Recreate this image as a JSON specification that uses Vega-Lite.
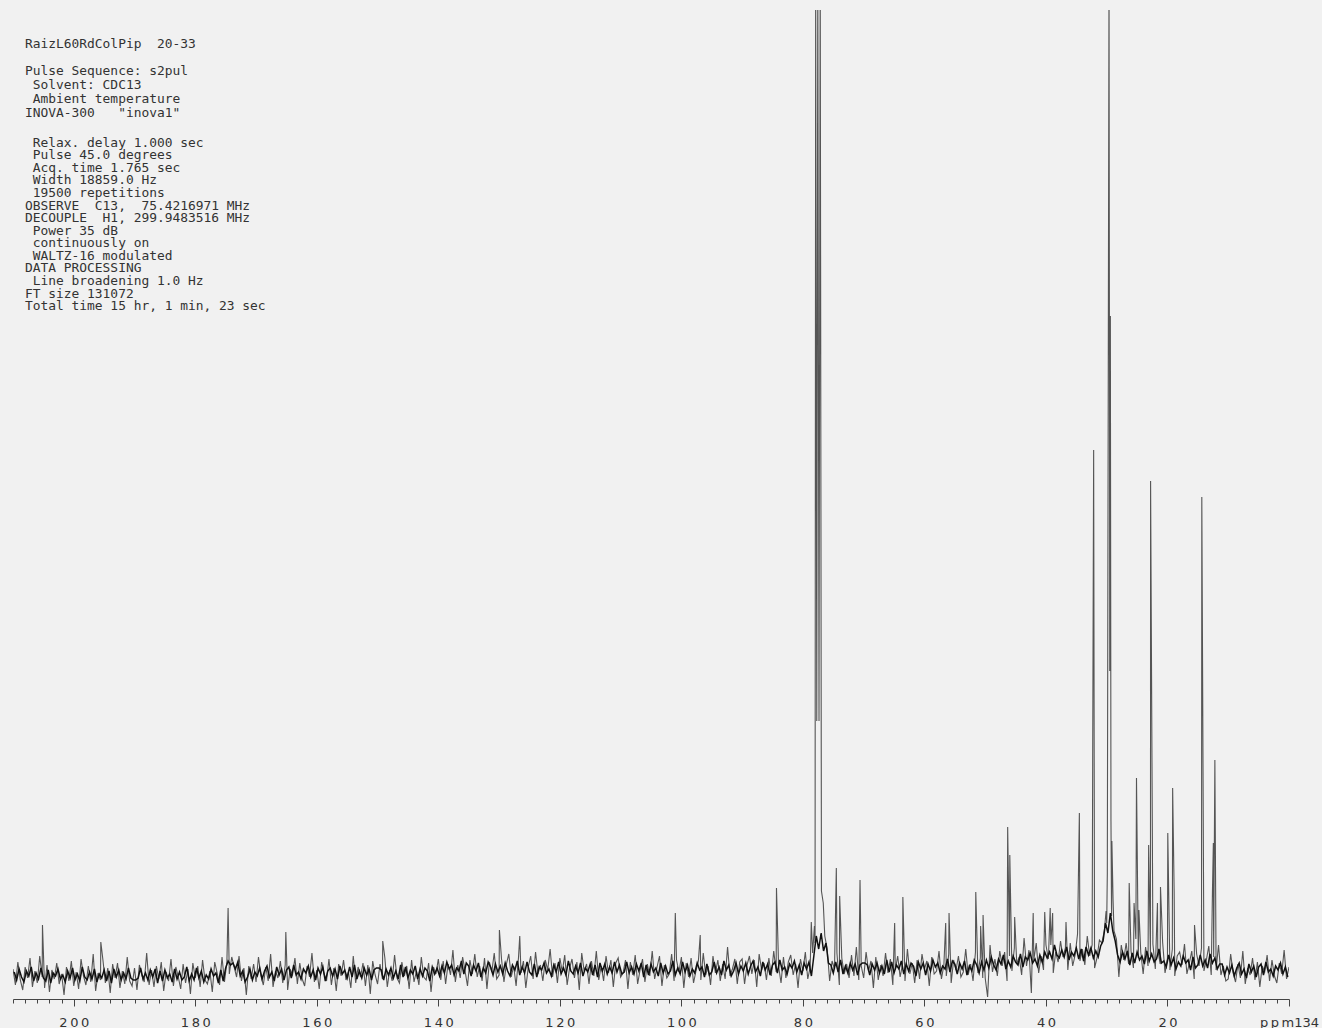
{
"$schema": "https://vega.github.io/schema/vega-lite/v6.json",
"width": 1276,
"height": 989,
"autosize": {"type": "none"},
"padding": {"left": 13, "right": 33, "top": 10, "bottom": 29},
"background": "#f1f1f1",
"config": {"view": {"stroke": null}},
"title": {
"text": ["RaizL60RdColPip\u00a0\u00a020-33", "\u200b\u00a0", "Pulse Sequence: s2pul", "\u200b\u00a0Solvent: CDC13", "\u200b\u00a0Ambient temperature", "INOVA-300\u00a0\u00a0\u00a0\"inova1\""],
"subtitle": ["\u200b\u00a0Relax. delay 1.000 sec", "\u200b\u00a0Pulse 45.0 degrees", "\u200b\u00a0Acq. time 1.765 sec", "\u200b\u00a0Width 18859.0 Hz", "\u200b\u00a019500 repetitions", "OBSERVE\u00a0\u00a0C13,\u00a0\u00a075.4216971 MHz", "DECOUPLE\u00a0\u00a0H1, 299.9483516 MHz", "\u200b\u00a0Power 35 dB", "\u200b\u00a0continuously on", "\u200b\u00a0WALTZ-16 modulated", "DATA PROCESSING", "\u200b\u00a0Line broadening 1.0 Hz", "FT size 131072", "Total time 15 hr, 1 min, 23 sec"],
"anchor": "start", "frame": "group", "orient": "top",
"font": "DejaVu Sans Mono", "fontSize": 12.9, "fontWeight": "normal", "color": "#333333", "lineHeight": 13.8,
"subtitleFont": "DejaVu Sans Mono", "subtitleFontSize": 12.9, "subtitleColor": "#333333", "subtitleLineHeight": 12.57,
"subtitlePadding": 17, "offset": -303, "dx": 12
},
"datasets": {
"main": [
{"ppm":210.0,"i":2},{"ppm":209.6,"i":-14},{"ppm":209.2,"i":9},{"ppm":208.8,"i":-9},{"ppm":208.4,"i":-19},{"ppm":208.0,"i":4},{"ppm":207.6,"i":-7},{"ppm":207.2,"i":13},{"ppm":206.8,"i":-16},{"ppm":206.4,"i":0},{"ppm":206.0,"i":-12},{"ppm":205.6,"i":15},{"ppm":205.2,"i":-6},{"ppm":204.8,"i":-17},{"ppm":204.4,"i":6},{"ppm":204.0,"i":-21},{"ppm":203.6,"i":1},{"ppm":203.2,"i":-8},{"ppm":202.8,"i":8},{"ppm":202.4,"i":-13},{"ppm":202.0,"i":-3},{"ppm":201.6,"i":-24},{"ppm":201.2,"i":4},{"ppm":200.8,"i":-10},{"ppm":200.4,"i":10},{"ppm":200.0,"i":-15},{"ppm":199.6,"i":-1},{"ppm":199.2,"i":-18},{"ppm":198.8,"i":12},{"ppm":198.4,"i":-5},{"ppm":198.0,"i":-14},{"ppm":197.6,"i":5},{"ppm":197.2,"i":-11},{"ppm":196.8,"i":17},{"ppm":196.4,"i":-20},{"ppm":196.0,"i":-2},{"ppm":195.6,"i":-9},{"ppm":195.2,"i":11},{"ppm":194.8,"i":-12},{"ppm":194.4,"i":3},{"ppm":194.0,"i":-22},{"ppm":193.6,"i":7},{"ppm":193.2,"i":-7},{"ppm":192.8,"i":8},{"ppm":192.4,"i":-17},{"ppm":192.0,"i":0},{"ppm":191.6,"i":-13},{"ppm":191.2,"i":14},{"ppm":190.8,"i":-10},{"ppm":190.4,"i":-15},
{"ppm":190.0,"i":3},{"ppm":189.6,"i":-19},{"ppm":189.2,"i":6},{"ppm":188.8,"i":-4},{"ppm":188.4,"i":-11},{"ppm":188.0,"i":18},{"ppm":187.6,"i":-14},{"ppm":187.2,"i":1},{"ppm":186.8,"i":-16},{"ppm":186.4,"i":5},{"ppm":186.0,"i":-8},{"ppm":185.6,"i":9},{"ppm":185.2,"i":-20},{"ppm":184.8,"i":-1},{"ppm":184.4,"i":-10},{"ppm":184.0,"i":12},{"ppm":183.6,"i":-15},{"ppm":183.2,"i":4},{"ppm":182.8,"i":-6},{"ppm":182.4,"i":-18},{"ppm":182.0,"i":7},{"ppm":181.6,"i":-12},{"ppm":181.2,"i":2},{"ppm":180.8,"i":-23},{"ppm":180.4,"i":8},{"ppm":180.0,"i":-7},{"ppm":179.6,"i":5},{"ppm":179.2,"i":-16},{"ppm":178.8,"i":11},{"ppm":178.4,"i":-9},{"ppm":178.0,"i":-13},{"ppm":177.6,"i":0},{"ppm":177.2,"i":-21},{"ppm":176.8,"i":9},{"ppm":176.4,"i":-2},{"ppm":176.0,"i":-14},{"ppm":175.6,"i":14},{"ppm":175.2,"i":-11},{"ppm":174.8,"i":9},{"ppm":174.4,"i":-3},{"ppm":174.0,"i":14},{"ppm":173.6,"i":4},{"ppm":173.2,"i":-6},{"ppm":172.8,"i":15},{"ppm":172.4,"i":-10},{"ppm":172.0,"i":3},{"ppm":171.6,"i":-24},{"ppm":171.2,"i":5},{"ppm":170.8,"i":-8},{"ppm":170.4,"i":7},
{"ppm":170.0,"i":-11},{"ppm":169.6,"i":14},{"ppm":169.2,"i":-5},{"ppm":168.8,"i":-14},{"ppm":168.4,"i":4},{"ppm":168.0,"i":-10},{"ppm":167.6,"i":17},{"ppm":167.2,"i":-16},{"ppm":166.8,"i":0},{"ppm":166.4,"i":-7},{"ppm":166.0,"i":10},{"ppm":165.6,"i":-12},{"ppm":165.2,"i":6},{"ppm":164.8,"i":-19},{"ppm":164.4,"i":2},{"ppm":164.0,"i":-4},{"ppm":163.6,"i":13},{"ppm":163.2,"i":-13},{"ppm":162.8,"i":8},{"ppm":162.4,"i":-8},{"ppm":162.0,"i":-15},{"ppm":161.6,"i":5},{"ppm":161.2,"i":-6},{"ppm":160.8,"i":18},{"ppm":160.4,"i":-11},{"ppm":160.0,"i":1},{"ppm":159.6,"i":-18},{"ppm":159.2,"i":9},{"ppm":158.8,"i":-3},{"ppm":158.4,"i":-10},{"ppm":158.0,"i":12},{"ppm":157.6,"i":-14},{"ppm":157.2,"i":3},{"ppm":156.8,"i":-20},{"ppm":156.4,"i":7},{"ppm":156.0,"i":-5},{"ppm":155.6,"i":11},{"ppm":155.2,"i":-9},{"ppm":154.8,"i":-1},{"ppm":154.4,"i":-17},{"ppm":154.0,"i":15},{"ppm":153.6,"i":-12},{"ppm":153.2,"i":4},{"ppm":152.8,"i":-6},{"ppm":152.4,"i":8},{"ppm":152.0,"i":-15},{"ppm":151.6,"i":6},{"ppm":151.2,"i":-23},{"ppm":150.8,"i":10},{"ppm":150.4,"i":-4},
{"ppm":150.0,"i":-13},{"ppm":149.6,"i":7},{"ppm":149.2,"i":-8},{"ppm":148.8,"i":13},{"ppm":148.4,"i":-16},{"ppm":148.0,"i":1},{"ppm":147.6,"i":-10},{"ppm":147.2,"i":16},{"ppm":146.8,"i":-7},{"ppm":146.4,"i":-12},{"ppm":146.0,"i":9},{"ppm":145.6,"i":-5},{"ppm":145.2,"i":5},{"ppm":144.8,"i":-18},{"ppm":144.4,"i":11},{"ppm":144.0,"i":-11},{"ppm":143.6,"i":0},{"ppm":143.2,"i":-14},{"ppm":142.8,"i":14},{"ppm":142.4,"i":-6},{"ppm":142.0,"i":-9},{"ppm":141.6,"i":8},{"ppm":141.2,"i":-21},{"ppm":140.8,"i":4},{"ppm":140.4,"i":-3},{"ppm":140.0,"i":12},{"ppm":139.6,"i":-9},{"ppm":139.2,"i":10},{"ppm":138.8,"i":-13},{"ppm":138.4,"i":7},{"ppm":138.0,"i":-4},{"ppm":137.6,"i":21},{"ppm":137.2,"i":-11},{"ppm":136.8,"i":6},{"ppm":136.4,"i":-7},{"ppm":136.0,"i":14},{"ppm":135.6,"i":0},{"ppm":135.2,"i":-15},{"ppm":134.8,"i":11},{"ppm":134.4,"i":-3},{"ppm":134.0,"i":17},{"ppm":133.6,"i":-6},{"ppm":133.2,"i":5},{"ppm":132.8,"i":-10},{"ppm":132.4,"i":13},{"ppm":132.0,"i":-18},{"ppm":131.6,"i":9},{"ppm":131.2,"i":-1},{"ppm":130.8,"i":18},{"ppm":130.4,"i":-8},
{"ppm":130.0,"i":-4},{"ppm":129.6,"i":12},{"ppm":129.2,"i":-11},{"ppm":128.8,"i":7},{"ppm":128.4,"i":17},{"ppm":128.0,"i":-6},{"ppm":127.6,"i":5},{"ppm":127.2,"i":-15},{"ppm":126.8,"i":14},{"ppm":126.4,"i":-2},{"ppm":126.0,"i":10},{"ppm":125.6,"i":-17},{"ppm":125.2,"i":4},{"ppm":124.8,"i":15},{"ppm":124.4,"i":-8},{"ppm":124.0,"i":19},{"ppm":123.6,"i":-3},{"ppm":123.2,"i":6},{"ppm":122.8,"i":-10},{"ppm":122.4,"i":11},{"ppm":122.0,"i":1},{"ppm":121.6,"i":22},{"ppm":121.2,"i":-6},{"ppm":120.8,"i":8},{"ppm":120.4,"i":-12},{"ppm":120.0,"i":13},{"ppm":119.6,"i":-1},{"ppm":119.2,"i":16},{"ppm":118.8,"i":-14},{"ppm":118.4,"i":3},{"ppm":118.0,"i":12},{"ppm":117.6,"i":-7},{"ppm":117.2,"i":9},{"ppm":116.8,"i":-19},{"ppm":116.4,"i":18},{"ppm":116.0,"i":0},{"ppm":115.6,"i":7},{"ppm":115.2,"i":-13},{"ppm":114.8,"i":10},{"ppm":114.4,"i":-5},{"ppm":114.0,"i":20},{"ppm":113.6,"i":-9},{"ppm":113.2,"i":5},{"ppm":112.8,"i":-10},{"ppm":112.4,"i":15},{"ppm":112.0,"i":-2},{"ppm":111.6,"i":11},{"ppm":111.2,"i":-16},{"ppm":110.8,"i":8},{"ppm":110.4,"i":13},
{"ppm":110.0,"i":-6},{"ppm":109.6,"i":-2},{"ppm":109.2,"i":11},{"ppm":108.8,"i":-18},{"ppm":108.4,"i":9},{"ppm":108.0,"i":-4},{"ppm":107.6,"i":16},{"ppm":107.2,"i":-13},{"ppm":106.8,"i":1},{"ppm":106.4,"i":12},{"ppm":106.0,"i":-11},{"ppm":105.6,"i":7},{"ppm":105.2,"i":-5},{"ppm":104.8,"i":20},{"ppm":104.4,"i":-8},{"ppm":104.0,"i":4},{"ppm":103.6,"i":15},{"ppm":103.2,"i":-15},{"ppm":102.8,"i":6},{"ppm":102.4,"i":-7},{"ppm":102.0,"i":-3},{"ppm":101.6,"i":17},{"ppm":101.2,"i":-10},{"ppm":100.8,"i":11},{"ppm":100.4,"i":-1},{"ppm":100.0,"i":14},{"ppm":99.6,"i":-17},{"ppm":99.2,"i":8},{"ppm":98.8,"i":-6},{"ppm":98.4,"i":13},{"ppm":98.0,"i":-12},{"ppm":97.6,"i":0},{"ppm":97.2,"i":10},{"ppm":96.8,"i":-9},{"ppm":96.4,"i":18},{"ppm":96.0,"i":-4},{"ppm":95.6,"i":5},{"ppm":95.2,"i":-14},{"ppm":94.8,"i":15},{"ppm":94.4,"i":-2},{"ppm":94.0,"i":11},{"ppm":93.6,"i":-10},{"ppm":93.2,"i":7},{"ppm":92.8,"i":-8},{"ppm":92.4,"i":24},{"ppm":92.0,"i":-5},{"ppm":91.6,"i":2},{"ppm":91.2,"i":12},{"ppm":90.8,"i":-13},{"ppm":90.4,"i":9},
{"ppm":90.0,"i":12},{"ppm":89.6,"i":-13},{"ppm":89.2,"i":6},{"ppm":88.8,"i":15},{"ppm":88.4,"i":-3},{"ppm":88.0,"i":11},{"ppm":87.6,"i":-16},{"ppm":87.2,"i":17},{"ppm":86.8,"i":1},{"ppm":86.4,"i":8},{"ppm":86.0,"i":-9},{"ppm":85.6,"i":13},{"ppm":85.2,"i":-5},{"ppm":84.8,"i":20},{"ppm":84.4,"i":-1},{"ppm":84.0,"i":5},{"ppm":83.6,"i":-12},{"ppm":83.2,"i":14},{"ppm":82.8,"i":-7},{"ppm":82.4,"i":9},{"ppm":82.0,"i":16},{"ppm":81.6,"i":-4},{"ppm":81.2,"i":7},{"ppm":80.8,"i":-17},{"ppm":80.4,"i":12},{"ppm":80.0,"i":0},{"ppm":79.6,"i":19},{"ppm":79.2,"i":-8},{"ppm":78.8,"i":4},{"ppm":78.4,"i":18},{"ppm":78.0,"i":28},{"ppm":76.4,"i":35},{"ppm":76.0,"i":22},{"ppm":75.6,"i":-10},{"ppm":75.2,"i":10},{"ppm":74.8,"i":2},{"ppm":74.4,"i":18},{"ppm":74.0,"i":-14},{"ppm":73.6,"i":13},{"ppm":73.2,"i":-3},{"ppm":72.8,"i":7},{"ppm":72.4,"i":-7},{"ppm":72.0,"i":16},{"ppm":71.6,"i":-5},{"ppm":71.2,"i":24},{"ppm":70.8,"i":-9},{"ppm":70.4,"i":5},
{"ppm":70.0,"i":-7},{"ppm":69.6,"i":19},{"ppm":69.2,"i":0},{"ppm":68.8,"i":10},{"ppm":68.4,"i":-17},{"ppm":68.0,"i":14},{"ppm":67.6,"i":-9},{"ppm":67.2,"i":6},{"ppm":66.8,"i":-5},{"ppm":66.4,"i":18},{"ppm":66.0,"i":-2},{"ppm":65.6,"i":12},{"ppm":65.2,"i":-14},{"ppm":64.8,"i":1},{"ppm":64.4,"i":15},{"ppm":64.0,"i":-6},{"ppm":63.6,"i":7},{"ppm":63.2,"i":-10},{"ppm":62.8,"i":22},{"ppm":62.4,"i":-3},{"ppm":62.0,"i":8},{"ppm":61.6,"i":-12},{"ppm":61.2,"i":11},{"ppm":60.8,"i":-8},{"ppm":60.4,"i":17},{"ppm":60.0,"i":2},{"ppm":59.6,"i":10},{"ppm":59.2,"i":-15},{"ppm":58.8,"i":14},{"ppm":58.4,"i":-3},{"ppm":58.0,"i":0},{"ppm":57.6,"i":20},{"ppm":57.2,"i":-8},{"ppm":56.8,"i":6},{"ppm":56.4,"i":-5},{"ppm":56.0,"i":17},{"ppm":55.6,"i":-12},{"ppm":55.2,"i":11},{"ppm":54.8,"i":1},{"ppm":54.4,"i":15},{"ppm":54.0,"i":-6},{"ppm":53.6,"i":-1},{"ppm":53.2,"i":22},{"ppm":52.8,"i":-4},{"ppm":52.4,"i":7},{"ppm":52.0,"i":-10},{"ppm":51.6,"i":19},{"ppm":51.2,"i":-2},{"ppm":50.8,"i":13},{"ppm":50.4,"i":-7},
{"ppm":50.0,"i":-7},{"ppm":49.6,"i":-26},{"ppm":49.2,"i":26},{"ppm":48.8,"i":-1},{"ppm":48.4,"i":12},{"ppm":48.0,"i":-5},{"ppm":47.6,"i":20},{"ppm":47.2,"i":5},{"ppm":46.8,"i":19},{"ppm":46.4,"i":-10},{"ppm":46.0,"i":15},{"ppm":45.6,"i":0},{"ppm":45.2,"i":23},{"ppm":44.8,"i":7},{"ppm":44.4,"i":14},{"ppm":44.0,"i":-4},{"ppm":43.6,"i":33},{"ppm":43.2,"i":5},{"ppm":42.8,"i":21},{"ppm":42.4,"i":-22},{"ppm":42.0,"i":11},{"ppm":41.6,"i":28},{"ppm":41.2,"i":-2},{"ppm":40.8,"i":15},{"ppm":40.4,"i":1},{"ppm":40.0,"i":26},{"ppm":39.6,"i":12},{"ppm":39.2,"i":26},{"ppm":38.8,"i":-2},{"ppm":38.4,"i":19},{"ppm":38.0,"i":9},{"ppm":37.6,"i":30},{"ppm":37.2,"i":14},{"ppm":36.8,"i":23},{"ppm":36.4,"i":1},{"ppm":36.0,"i":28},{"ppm":35.6,"i":5},{"ppm":35.2,"i":16},{"ppm":34.8,"i":37},{"ppm":34.4,"i":10},{"ppm":34.0,"i":22},{"ppm":33.6,"i":6},{"ppm":33.2,"i":35},{"ppm":32.8,"i":15},{"ppm":32.4,"i":26},{"ppm":32.0,"i":3},{"ppm":31.6,"i":13},{"ppm":31.2,"i":31},{"ppm":30.8,"i":28},{"ppm":30.4,"i":40},
{"ppm":30.0,"i":48},{"ppm":29.2,"i":55},{"ppm":28.8,"i":40},{"ppm":28.4,"i":32},{"ppm":28.0,"i":-6},{"ppm":27.6,"i":26},{"ppm":27.2,"i":11},{"ppm":26.8,"i":28},{"ppm":26.4,"i":7},{"ppm":26.0,"i":20},{"ppm":25.6,"i":3},{"ppm":25.2,"i":32},{"ppm":24.8,"i":13},{"ppm":24.4,"i":19},{"ppm":24.0,"i":-3},{"ppm":23.6,"i":24},{"ppm":23.2,"i":5},{"ppm":22.8,"i":15},{"ppm":22.4,"i":27},{"ppm":22.0,"i":2},{"ppm":21.6,"i":21},{"ppm":21.2,"i":7},{"ppm":20.8,"i":29},{"ppm":20.4,"i":-2},{"ppm":20.0,"i":13},{"ppm":19.6,"i":1},{"ppm":19.2,"i":22},{"ppm":18.8,"i":-5},{"ppm":18.4,"i":15},{"ppm":18.0,"i":19},{"ppm":17.6,"i":6},{"ppm":17.2,"i":27},{"ppm":16.8,"i":-3},{"ppm":16.4,"i":8},{"ppm":16.0,"i":20},{"ppm":15.6,"i":-8},{"ppm":15.2,"i":17},{"ppm":14.8,"i":5},{"ppm":14.4,"i":23},{"ppm":14.0,"i":0},{"ppm":13.6,"i":11},{"ppm":13.2,"i":25},{"ppm":12.8,"i":-4},{"ppm":12.4,"i":14},{"ppm":12.0,"i":1},{"ppm":11.6,"i":26},{"ppm":11.2,"i":-4},{"ppm":10.8,"i":5},{"ppm":10.4,"i":-10},
{"ppm":10.0,"i":-8},{"ppm":9.6,"i":17},{"ppm":9.2,"i":-2},{"ppm":8.8,"i":-11},{"ppm":8.4,"i":7},{"ppm":8.0,"i":-7},{"ppm":7.6,"i":20},{"ppm":7.2,"i":-13},{"ppm":6.8,"i":3},{"ppm":6.4,"i":-4},{"ppm":6.0,"i":13},{"ppm":5.6,"i":-9},{"ppm":5.2,"i":9},{"ppm":4.8,"i":-16},{"ppm":4.4,"i":5},{"ppm":4.0,"i":-1},{"ppm":3.6,"i":16},{"ppm":3.2,"i":-10},{"ppm":2.8,"i":11},{"ppm":2.4,"i":-5},{"ppm":2.0,"i":-12},{"ppm":1.6,"i":8},{"ppm":1.2,"i":-3},{"ppm":0.8,"i":21},{"ppm":0.4,"i":-8},{"ppm":0.0,"i":4},
{"ppm":205.15,"i":46},{"ppm":195.55,"i":29},{"ppm":174.6,"i":63},{"ppm":165.1,"i":39},{"ppm":149.15,"i":30},{"ppm":129.95,"i":41},{"ppm":126.6,"i":35},{"ppm":101.0,"i":58},{"ppm":96.9,"i":36},{"ppm":84.35,"i":83},{"ppm":78.62,"i":49},
{"ppm":78.1,"i":45},{"ppm":77.9,"i":1000},{"ppm":77.72,"i":250},{"ppm":77.55,"i":1000},{"ppm":77.35,"i":250},{"ppm":77.15,"i":1000},{"ppm":76.95,"i":80},{"ppm":76.65,"i":68},
{"ppm":74.5,"i":103},{"ppm":73.95,"i":75},{"ppm":70.6,"i":91},{"ppm":64.9,"i":48},{"ppm":63.55,"i":74},{"ppm":56.5,"i":48},{"ppm":55.95,"i":58},{"ppm":51.55,"i":79},{"ppm":50.75,"i":45},{"ppm":50.35,"i":56},{"ppm":46.3,"i":144},{"ppm":45.95,"i":116},{"ppm":45.15,"i":54},{"ppm":42.1,"i":58},{"ppm":40.2,"i":59},{"ppm":39.3,"i":63},{"ppm":38.9,"i":58},{"ppm":36.7,"i":49},{"ppm":34.5,"i":158},{"ppm":32.15,"i":521},
{"ppm":30.1,"i":60},{"ppm":29.9,"i":98},{"ppm":29.62,"i":1000},{"ppm":29.5,"i":300},{"ppm":29.4,"i":655},{"ppm":29.3,"i":150},{"ppm":29.15,"i":130},{"ppm":28.95,"i":70},
{"ppm":26.3,"i":88},{"ppm":25.5,"i":68},{"ppm":25.1,"i":193},{"ppm":24.7,"i":61},{"ppm":23.1,"i":126},{"ppm":22.78,"i":490},{"ppm":21.65,"i":68},{"ppm":21.15,"i":84},{"ppm":19.95,"i":138},{"ppm":19.15,"i":183},{"ppm":18.9,"i":79},{"ppm":15.55,"i":46},{"ppm":14.35,"i":474},{"ppm":12.6,"i":79},{"ppm":12.45,"i":128},{"ppm":12.2,"i":211}
],
"core": [
{"ppm":209.8,"i":-1},{"ppm":209.4,"i":-9},{"ppm":209.0,"i":2},{"ppm":208.6,"i":-6},{"ppm":208.2,"i":-11},{"ppm":207.8,"i":0},{"ppm":207.4,"i":-5},{"ppm":207.0,"i":4},{"ppm":206.6,"i":-10},{"ppm":206.2,"i":-2},{"ppm":205.8,"i":-8},{"ppm":205.4,"i":3},{"ppm":205.0,"i":-7},{"ppm":204.6,"i":-10},{"ppm":204.2,"i":1},{"ppm":203.8,"i":-12},{"ppm":203.4,"i":-2},{"ppm":203.0,"i":-5},{"ppm":202.6,"i":2},{"ppm":202.2,"i":-8},{"ppm":201.8,"i":-4},{"ppm":201.4,"i":-11},{"ppm":201.0,"i":0},{"ppm":200.6,"i":-7},{"ppm":200.2,"i":3},{"ppm":199.8,"i":-9},{"ppm":199.4,"i":-3},{"ppm":199.0,"i":-10},{"ppm":198.6,"i":4},{"ppm":198.2,"i":-6},{"ppm":197.8,"i":-9},{"ppm":197.4,"i":-1},{"ppm":197.0,"i":-8},{"ppm":196.6,"i":2},{"ppm":196.2,"i":-11},{"ppm":195.8,"i":-3},{"ppm":195.4,"i":-7},{"ppm":195.0,"i":1},{"ppm":194.6,"i":-10},{"ppm":194.2,"i":0},{"ppm":193.8,"i":-12},{"ppm":193.4,"i":2},{"ppm":193.0,"i":-6},{"ppm":192.6,"i":1},{"ppm":192.2,"i":-9},{"ppm":191.8,"i":-2},{"ppm":191.4,"i":-8},{"ppm":191.0,"i":3},{"ppm":190.6,"i":-7},{"ppm":190.2,"i":-9},
{"ppm":189.8,"i":-9},{"ppm":189.4,"i":-7},{"ppm":189.0,"i":3},{"ppm":188.6,"i":-8},{"ppm":188.2,"i":-2},{"ppm":187.8,"i":-9},{"ppm":187.4,"i":1},{"ppm":187.0,"i":-6},{"ppm":186.6,"i":2},{"ppm":186.2,"i":-12},{"ppm":185.8,"i":0},{"ppm":185.4,"i":-10},{"ppm":185.0,"i":1},{"ppm":184.6,"i":-7},{"ppm":184.2,"i":-3},{"ppm":183.8,"i":-11},{"ppm":183.4,"i":2},{"ppm":183.0,"i":-8},{"ppm":182.6,"i":-1},{"ppm":182.2,"i":-9},{"ppm":181.8,"i":-6},{"ppm":181.4,"i":4},{"ppm":181.0,"i":-10},{"ppm":180.6,"i":-3},{"ppm":180.2,"i":-9},{"ppm":179.8,"i":3},{"ppm":179.4,"i":-7},{"ppm":179.0,"i":0},{"ppm":178.6,"i":-11},{"ppm":178.2,"i":-4},{"ppm":177.8,"i":-8},{"ppm":177.4,"i":2},{"ppm":177.0,"i":-5},{"ppm":176.6,"i":-2},{"ppm":176.2,"i":-12},{"ppm":175.8,"i":1},{"ppm":175.4,"i":-10},{"ppm":175.0,"i":3},{"ppm":174.6,"i":10},{"ppm":174.2,"i":6},{"ppm":173.8,"i":8},{"ppm":173.4,"i":2},{"ppm":173.0,"i":9},{"ppm":172.6,"i":-5},{"ppm":172.2,"i":0},{"ppm":171.8,"i":-11},{"ppm":171.4,"i":-6},{"ppm":171.0,"i":2},{"ppm":170.6,"i":-9},{"ppm":170.2,"i":-1},
{"ppm":169.8,"i":-5},{"ppm":169.4,"i":3},{"ppm":169.0,"i":-8},{"ppm":168.6,"i":0},{"ppm":168.2,"i":5},{"ppm":167.8,"i":-6},{"ppm":167.4,"i":-1},{"ppm":167.0,"i":-10},{"ppm":166.6,"i":4},{"ppm":166.2,"i":-4},{"ppm":165.8,"i":2},{"ppm":165.4,"i":-9},{"ppm":165.0,"i":1},{"ppm":164.6,"i":4},{"ppm":164.2,"i":-7},{"ppm":163.8,"i":6},{"ppm":163.4,"i":-4},{"ppm":163.0,"i":-1},{"ppm":162.6,"i":-8},{"ppm":162.2,"i":2},{"ppm":161.8,"i":-2},{"ppm":161.4,"i":5},{"ppm":161.0,"i":-6},{"ppm":160.6,"i":1},{"ppm":160.2,"i":-9},{"ppm":159.8,"i":3},{"ppm":159.4,"i":-3},{"ppm":159.0,"i":4},{"ppm":158.6,"i":-10},{"ppm":158.2,"i":0},{"ppm":157.8,"i":3},{"ppm":157.4,"i":-5},{"ppm":157.0,"i":2},{"ppm":156.6,"i":-8},{"ppm":156.2,"i":5},{"ppm":155.8,"i":-3},{"ppm":155.4,"i":1},{"ppm":155.0,"i":-7},{"ppm":154.6,"i":4},{"ppm":154.2,"i":-6},{"ppm":153.8,"i":6},{"ppm":153.4,"i":-8},{"ppm":153.0,"i":0},{"ppm":152.6,"i":-7},{"ppm":152.2,"i":3},{"ppm":151.8,"i":-4},{"ppm":151.4,"i":2},{"ppm":151.0,"i":-9},{"ppm":150.6,"i":1},{"ppm":150.2,"i":3},
{"ppm":149.8,"i":3},{"ppm":149.4,"i":1},{"ppm":149.0,"i":-9},{"ppm":148.6,"i":2},{"ppm":148.2,"i":-4},{"ppm":147.8,"i":3},{"ppm":147.4,"i":-7},{"ppm":147.0,"i":0},{"ppm":146.6,"i":-8},{"ppm":146.2,"i":6},{"ppm":145.8,"i":-6},{"ppm":145.4,"i":4},{"ppm":145.0,"i":-7},{"ppm":144.6,"i":1},{"ppm":144.2,"i":-3},{"ppm":143.8,"i":5},{"ppm":143.4,"i":-8},{"ppm":143.0,"i":2},{"ppm":142.6,"i":-5},{"ppm":142.2,"i":3},{"ppm":141.8,"i":0},{"ppm":141.4,"i":-10},{"ppm":141.0,"i":4},{"ppm":140.6,"i":-3},{"ppm":140.2,"i":3},{"ppm":139.8,"i":-5},{"ppm":139.4,"i":5},{"ppm":139.0,"i":-2},{"ppm":138.6,"i":9},{"ppm":138.2,"i":2},{"ppm":137.8,"i":6},{"ppm":137.4,"i":-4},{"ppm":137.0,"i":3},{"ppm":136.6,"i":0},{"ppm":136.2,"i":10},{"ppm":135.8,"i":-3},{"ppm":135.4,"i":8},{"ppm":135.0,"i":5},{"ppm":134.6,"i":-5},{"ppm":134.2,"i":6},{"ppm":133.8,"i":0},{"ppm":133.4,"i":8},{"ppm":133.0,"i":-6},{"ppm":132.6,"i":3},{"ppm":132.2,"i":-2},{"ppm":131.8,"i":9},{"ppm":131.4,"i":4},{"ppm":131.0,"i":-4},{"ppm":130.6,"i":7},{"ppm":130.2,"i":-1},
{"ppm":129.8,"i":5},{"ppm":129.4,"i":-3},{"ppm":129.0,"i":8},{"ppm":128.6,"i":0},{"ppm":128.2,"i":-5},{"ppm":127.8,"i":6},{"ppm":127.4,"i":1},{"ppm":127.0,"i":10},{"ppm":126.6,"i":-4},{"ppm":126.2,"i":4},{"ppm":125.8,"i":-2},{"ppm":125.4,"i":9},{"ppm":125.0,"i":-1},{"ppm":124.6,"i":-4},{"ppm":124.2,"i":7},{"ppm":123.8,"i":-6},{"ppm":123.4,"i":4},{"ppm":123.0,"i":1},{"ppm":122.6,"i":8},{"ppm":122.2,"i":-2},{"ppm":121.8,"i":2},{"ppm":121.4,"i":-5},{"ppm":121.0,"i":6},{"ppm":120.6,"i":-1},{"ppm":120.2,"i":9},{"ppm":119.8,"i":-3},{"ppm":119.4,"i":3},{"ppm":119.0,"i":-4},{"ppm":118.6,"i":10},{"ppm":118.2,"i":0},{"ppm":117.8,"i":-3},{"ppm":117.4,"i":5},{"ppm":117.0,"i":-2},{"ppm":116.6,"i":8},{"ppm":116.2,"i":-5},{"ppm":115.8,"i":3},{"ppm":115.4,"i":-1},{"ppm":115.0,"i":7},{"ppm":114.6,"i":-4},{"ppm":114.2,"i":6},{"ppm":113.8,"i":-6},{"ppm":113.4,"i":8},{"ppm":113.0,"i":0},{"ppm":112.6,"i":7},{"ppm":112.2,"i":-3},{"ppm":111.8,"i":4},{"ppm":111.4,"i":-2},{"ppm":111.0,"i":9},{"ppm":110.6,"i":-1},{"ppm":110.2,"i":6},
{"ppm":109.8,"i":-3},{"ppm":109.4,"i":-1},{"ppm":109.0,"i":9},{"ppm":108.6,"i":-2},{"ppm":108.2,"i":4},{"ppm":107.8,"i":-3},{"ppm":107.4,"i":7},{"ppm":107.0,"i":0},{"ppm":106.6,"i":8},{"ppm":106.2,"i":-6},{"ppm":105.8,"i":6},{"ppm":105.4,"i":-4},{"ppm":105.0,"i":7},{"ppm":104.6,"i":-1},{"ppm":104.2,"i":3},{"ppm":103.8,"i":-5},{"ppm":103.4,"i":8},{"ppm":103.0,"i":-2},{"ppm":102.6,"i":5},{"ppm":102.2,"i":-3},{"ppm":101.8,"i":0},{"ppm":101.4,"i":10},{"ppm":101.0,"i":-4},{"ppm":100.6,"i":3},{"ppm":100.2,"i":-3},{"ppm":99.8,"i":9},{"ppm":99.4,"i":-1},{"ppm":99.0,"i":6},{"ppm":98.6,"i":-5},{"ppm":98.2,"i":2},{"ppm":97.8,"i":-2},{"ppm":97.4,"i":8},{"ppm":97.0,"i":1},{"ppm":96.6,"i":4},{"ppm":96.2,"i":-6},{"ppm":95.8,"i":7},{"ppm":95.4,"i":-4},{"ppm":95.0,"i":-1},{"ppm":94.6,"i":9},{"ppm":94.2,"i":-2},{"ppm":93.8,"i":4},{"ppm":93.4,"i":-4},{"ppm":93.0,"i":10},{"ppm":92.6,"i":1},{"ppm":92.2,"i":6},{"ppm":91.8,"i":-5},{"ppm":91.4,"i":0},{"ppm":91.0,"i":8},{"ppm":90.6,"i":-3},{"ppm":90.2,"i":5},
{"ppm":89.8,"i":0},{"ppm":89.4,"i":8},{"ppm":89.0,"i":-3},{"ppm":88.6,"i":5},{"ppm":88.2,"i":10},{"ppm":87.8,"i":-1},{"ppm":87.4,"i":4},{"ppm":87.0,"i":-5},{"ppm":86.6,"i":9},{"ppm":86.2,"i":1},{"ppm":85.8,"i":7},{"ppm":85.4,"i":-4},{"ppm":85.0,"i":6},{"ppm":84.6,"i":9},{"ppm":84.2,"i":-2},{"ppm":83.8,"i":11},{"ppm":83.4,"i":1},{"ppm":83.0,"i":4},{"ppm":82.6,"i":-3},{"ppm":82.2,"i":7},{"ppm":81.8,"i":3},{"ppm":81.4,"i":10},{"ppm":81.0,"i":-1},{"ppm":80.6,"i":6},{"ppm":80.2,"i":-4},{"ppm":79.8,"i":8},{"ppm":79.4,"i":2},{"ppm":79.0,"i":9},{"ppm":78.6,"i":-5},{"ppm":78.2,"i":15},{"ppm":77.8,"i":35},{"ppm":77.4,"i":22},{"ppm":77.0,"i":38},{"ppm":76.6,"i":20},{"ppm":76.2,"i":28},{"ppm":75.8,"i":8},{"ppm":75.4,"i":6},{"ppm":75.0,"i":-2},{"ppm":74.6,"i":9},{"ppm":74.2,"i":-1},{"ppm":73.8,"i":11},{"ppm":73.4,"i":-3},{"ppm":73.0,"i":5},{"ppm":72.6,"i":-2},{"ppm":72.2,"i":8},{"ppm":71.8,"i":1},{"ppm":71.4,"i":7},{"ppm":71.0,"i":-4},{"ppm":70.6,"i":6},{"ppm":70.2,"i":8},
{"ppm":69.8,"i":8},{"ppm":69.4,"i":6},{"ppm":69.0,"i":-4},{"ppm":68.6,"i":7},{"ppm":68.2,"i":1},{"ppm":67.8,"i":8},{"ppm":67.4,"i":-2},{"ppm":67.0,"i":5},{"ppm":66.6,"i":-3},{"ppm":66.2,"i":11},{"ppm":65.8,"i":-1},{"ppm":65.4,"i":9},{"ppm":65.0,"i":-2},{"ppm":64.6,"i":6},{"ppm":64.2,"i":2},{"ppm":63.8,"i":10},{"ppm":63.4,"i":-3},{"ppm":63.0,"i":7},{"ppm":62.6,"i":0},{"ppm":62.2,"i":8},{"ppm":61.8,"i":5},{"ppm":61.4,"i":-5},{"ppm":61.0,"i":9},{"ppm":60.6,"i":2},{"ppm":60.2,"i":8},{"ppm":59.8,"i":-4},{"ppm":59.4,"i":7},{"ppm":59.0,"i":0},{"ppm":58.6,"i":11},{"ppm":58.2,"i":4},{"ppm":57.8,"i":8},{"ppm":57.4,"i":-2},{"ppm":57.0,"i":5},{"ppm":56.6,"i":2},{"ppm":56.2,"i":12},{"ppm":55.8,"i":-1},{"ppm":55.4,"i":10},{"ppm":55.0,"i":7},{"ppm":54.6,"i":-3},{"ppm":54.2,"i":8},{"ppm":53.8,"i":2},{"ppm":53.4,"i":10},{"ppm":53.0,"i":-4},{"ppm":52.6,"i":5},{"ppm":52.2,"i":0},{"ppm":51.8,"i":11},{"ppm":51.4,"i":6},{"ppm":51.0,"i":-2},{"ppm":50.6,"i":9},{"ppm":50.2,"i":1},
{"ppm":49.8,"i":11},{"ppm":49.4,"i":3},{"ppm":49.0,"i":14},{"ppm":48.6,"i":6},{"ppm":48.2,"i":1},{"ppm":47.8,"i":12},{"ppm":47.4,"i":7},{"ppm":47.0,"i":16},{"ppm":46.6,"i":2},{"ppm":46.2,"i":10},{"ppm":45.8,"i":4},{"ppm":45.4,"i":15},{"ppm":45.0,"i":9},{"ppm":44.6,"i":6},{"ppm":44.2,"i":17},{"ppm":43.8,"i":4},{"ppm":43.4,"i":14},{"ppm":43.0,"i":11},{"ppm":42.6,"i":18},{"ppm":42.2,"i":8},{"ppm":41.8,"i":12},{"ppm":41.4,"i":5},{"ppm":41.0,"i":16},{"ppm":40.6,"i":9},{"ppm":40.2,"i":19},{"ppm":39.8,"i":13},{"ppm":39.4,"i":19},{"ppm":39.0,"i":12},{"ppm":38.6,"i":26},{"ppm":38.2,"i":16},{"ppm":37.8,"i":13},{"ppm":37.4,"i":21},{"ppm":37.0,"i":14},{"ppm":36.6,"i":24},{"ppm":36.2,"i":11},{"ppm":35.8,"i":19},{"ppm":35.4,"i":15},{"ppm":35.0,"i":23},{"ppm":34.6,"i":12},{"ppm":34.2,"i":22},{"ppm":33.8,"i":10},{"ppm":33.4,"i":24},{"ppm":33.0,"i":16},{"ppm":32.6,"i":23},{"ppm":32.2,"i":13},{"ppm":31.8,"i":20},{"ppm":31.4,"i":14},{"ppm":31.0,"i":25},{"ppm":30.6,"i":30},{"ppm":30.2,"i":48},
{"ppm":29.8,"i":38},{"ppm":29.4,"i":58},{"ppm":29.0,"i":40},{"ppm":28.6,"i":30},{"ppm":28.2,"i":16},{"ppm":27.8,"i":9},{"ppm":27.4,"i":19},{"ppm":27.0,"i":12},{"ppm":26.6,"i":20},{"ppm":26.2,"i":6},{"ppm":25.8,"i":18},{"ppm":25.4,"i":8},{"ppm":25.0,"i":19},{"ppm":24.6,"i":11},{"ppm":24.2,"i":15},{"ppm":23.8,"i":7},{"ppm":23.4,"i":20},{"ppm":23.0,"i":10},{"ppm":22.6,"i":17},{"ppm":22.2,"i":9},{"ppm":21.8,"i":12},{"ppm":21.4,"i":22},{"ppm":21.0,"i":8},{"ppm":20.6,"i":10},{"ppm":20.2,"i":4},{"ppm":19.8,"i":16},{"ppm":19.4,"i":6},{"ppm":19.0,"i":13},{"ppm":18.6,"i":2},{"ppm":18.2,"i":9},{"ppm":17.8,"i":5},{"ppm":17.4,"i":15},{"ppm":17.0,"i":8},{"ppm":16.6,"i":11},{"ppm":16.2,"i":1},{"ppm":15.8,"i":14},{"ppm":15.4,"i":3},{"ppm":15.0,"i":6},{"ppm":14.6,"i":16},{"ppm":14.2,"i":5},{"ppm":13.8,"i":11},{"ppm":13.4,"i":3},{"ppm":13.0,"i":17},{"ppm":12.6,"i":8},{"ppm":12.2,"i":13},{"ppm":11.8,"i":2},{"ppm":11.4,"i":7},{"ppm":11.0,"i":7},{"ppm":10.6,"i":-4},{"ppm":10.2,"i":4},
{"ppm":9.8,"i":-2},{"ppm":9.4,"i":6},{"ppm":9.0,"i":-5},{"ppm":8.6,"i":3},{"ppm":8.2,"i":8},{"ppm":7.8,"i":-3},{"ppm":7.4,"i":2},{"ppm":7.0,"i":-7},{"ppm":6.6,"i":7},{"ppm":6.2,"i":-1},{"ppm":5.8,"i":5},{"ppm":5.4,"i":-6},{"ppm":5.0,"i":4},{"ppm":4.6,"i":7},{"ppm":4.2,"i":-4},{"ppm":3.8,"i":9},{"ppm":3.4,"i":-1},{"ppm":3.0,"i":2},{"ppm":2.6,"i":-5},{"ppm":2.2,"i":5},{"ppm":1.8,"i":1},{"ppm":1.4,"i":8},{"ppm":1.0,"i":-3},{"ppm":0.6,"i":4},{"ppm":0.2,"i":-6}
]
},
"encoding": {
"x": {"field": "ppm", "type": "quantitative",
"scale": {"domain": [0, 210], "reverse": true, "nice": false, "zero": false},
"axis": {
"values": [0,2,4,6,8,10,12,14,16,18,20,22,24,26,28,30,32,34,36,38,40,42,44,46,48,50,52,54,56,58,60,62,64,66,68,70,72,74,76,78,80,82,84,86,88,90,92,94,96,98,100,102,104,106,108,110,112,114,116,118,120,122,124,126,128,130,132,134,136,138,140,142,144,146,148,150,152,154,156,158,160,162,164,166,168,170,172,174,176,178,180,182,184,186,188,190,192,194,196,198,200,202,204,206,208,210],
"labelExpr": "datum.value == 0 ? 'p\u2009p\u2009m134' : (datum.value % 20 == 0 ? join(split(datum.label, ''), '\u2009') : '')",
"title": null, "grid": false, "labelOverlap": false, "labelFlush": false, "labelBound": false,
"tickSize": {"condition": {"test": "datum.value % 20 == 0", "value": 7}, "value": 4},
"tickColor": "#444444", "tickWidth": 1, "domainColor": "#444444", "domainWidth": 1,
"labelFont": "DejaVu Sans", "labelFontSize": 13, "labelColor": "#333333", "labelBaseline": "alphabetic", "labelPadding": 20
}},
"y": {"field": "i", "type": "quantitative", "scale": {"domain": [-28, 961], "nice": false, "zero": false}, "axis": null}
},
"layer": [
{"data": {"name": "main"}, "mark": {"type": "line", "color": "#555555", "strokeWidth": 1.1, "clip": true}},
{"data": {"name": "core"}, "mark": {"type": "line", "color": "#111111", "strokeWidth": 1.5, "clip": true}}
]
}
